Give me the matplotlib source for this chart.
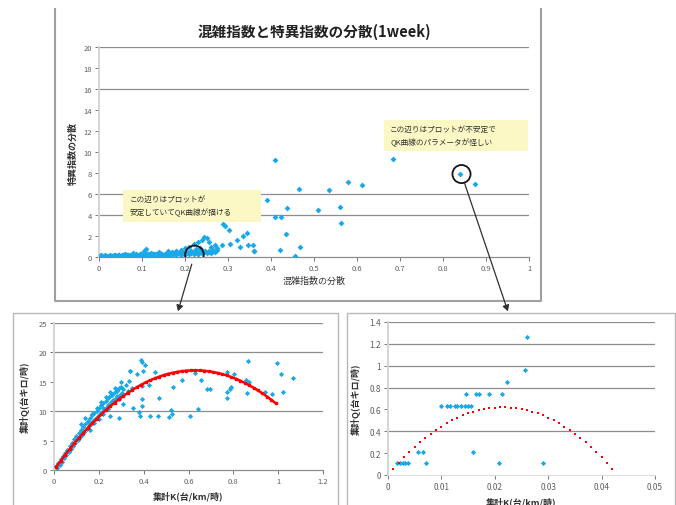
import matplotlib.pyplot as plt
from matplotlib.lines import Line2D
from matplotlib.patches import Rectangle, ConnectionPatch

plt.rcParams['font.family'] = ['Noto Sans CJK JP', 'DejaVu Sans']

BLUE = '#1AA9E8'
RED = '#FF0000'
GRID = '#8c8c8c'

# 上: 混雑指数の分散 vs 特異指数の分散
top_x = [0.00, 0.01, 0.02, 0.03, 0.04, 0.05, 0.06, 0.07, 0.08, 0.09, 0.10, 0.11, 0.12, 0.13,
         0.14, 0.15, 0.16, 0.17, 0.18, 0.19, 0.20, 0.21, 0.22, 0.23, 0.24, 0.25, 0.26, 0.27,
         0.005, 0.015, 0.025, 0.035, 0.045, 0.055, 0.065, 0.075, 0.085, 0.095, 0.105, 0.115,
         0.125, 0.135, 0.145, 0.155, 0.165, 0.175, 0.185, 0.195, 0.205, 0.215, 0.225, 0.235,
         0.245, 0.255, 0.265, 0.275,
         0.0025, 0.0075, 0.0125, 0.0175, 0.0225, 0.0275, 0.0325, 0.0375, 0.0425, 0.0475,
         0.0525, 0.0575, 0.0625, 0.0675, 0.0725, 0.0775, 0.0825, 0.0875, 0.0925, 0.0975,
         0.1025, 0.1075, 0.1125, 0.1175, 0.1225, 0.1275, 0.1325, 0.1375, 0.1425, 0.1475,
         0.1525, 0.1575, 0.1625, 0.1675, 0.1725, 0.1775, 0.1825, 0.1875, 0.1925, 0.1975,
         0.2025, 0.2075, 0.2125, 0.2175, 0.2225, 0.2275, 0.2325, 0.2375, 0.2425, 0.2475,
         0.11, 0.105, 0.14, 0.16, 0.17, 0.19, 0.20, 0.21, 0.22, 0.215, 0.225, 0.23, 0.235,
         0.24, 0.245, 0.25, 0.255, 0.26, 0.265, 0.27, 0.275, 0.255, 0.23, 0.08, 0.06, 0.12,
         0.18, 0.20, 0.285, 0.289, 0.294, 0.303, 0.305, 0.32, 0.328, 0.334, 0.345, 0.347,
         0.357, 0.36, 0.361, 0.39, 0.41, 0.42, 0.424, 0.435, 0.437, 0.455, 0.466, 0.467,
         0.51, 0.534, 0.56, 0.563, 0.578, 0.612, 0.683, 0.41, 0.84, 0.874]
top_y = [0.00, 0.02, 0.03, 0.05, 0.05, 0.06, 0.08, 0.08, 0.10, 0.10, 0.12, 0.12, 0.14, 0.15,
         0.16, 0.16, 0.18, 0.20, 0.20, 0.22, 0.24, 0.25, 0.30, 0.30, 0.35, 0.40, 0.40, 0.50,
         0.15, 0.17, 0.18, 0.20, 0.20, 0.21, 0.23, 0.23, 0.25, 0.25, 0.27, 0.27, 0.29, 0.30,
         0.31, 0.31, 0.33, 0.35, 0.35, 0.37, 0.39, 0.40, 0.45, 0.45, 0.50, 0.55, 0.55, 0.65,
         0.08, 0.10, 0.09, 0.12, 0.11, 0.14, 0.13, 0.15, 0.14, 0.17, 0.16, 0.18, 0.17, 0.20,
         0.19, 0.21, 0.20, 0.23, 0.22, 0.24, 0.23, 0.26, 0.25, 0.28, 0.27, 0.29, 0.28, 0.31,
         0.30, 0.32, 0.31, 0.34, 0.33, 0.36, 0.35, 0.38, 0.37, 0.40, 0.39, 0.42, 0.41, 0.45,
         0.44, 0.48, 0.47, 0.52, 0.50, 0.56, 0.55, 0.60,
         0.75, 0.55, 0.50, 0.60, 0.45, 0.70, 0.90, 1.00, 1.20, 0.60, 0.80, 1.40, 0.90,
         1.60, 1.90, 1.85, 1.40, 1.00, 0.70, 1.10, 0.90, 0.50, 0.30, 0.40, 0.30, 0.35,
         0.55, 0.45, 1.10, 3.15, 3.00, 2.60, 1.20, 1.60, 1.00, 2.00, 2.25, 1.15,
         1.15, 0.60, 0.60, 5.45, 3.80, 0.65, 3.80, 2.20, 4.70, 0.10, 6.50, 1.00,
         4.45, 6.35, 4.80, 3.20, 7.10, 6.90, 9.30, 9.20, 7.90, 7.00]

# 左下: 集計K vs 集計Q
bl_x = [0.01, 0.02, 0.03, 0.04, 0.05, 0.06, 0.07, 0.08, 0.09, 0.10, 0.11, 0.12, 0.13, 0.14,
        0.15, 0.16, 0.17, 0.18, 0.19, 0.20, 0.21, 0.22, 0.23, 0.24, 0.25, 0.26, 0.27, 0.28,
        0.29, 0.30,
        0.015, 0.025, 0.035, 0.045, 0.055, 0.065, 0.075, 0.085, 0.095, 0.105, 0.115, 0.125,
        0.135, 0.145, 0.155, 0.165, 0.175, 0.185, 0.195, 0.205, 0.215, 0.225, 0.235, 0.245,
        0.255, 0.265, 0.275, 0.285, 0.295, 0.305,
        0.12, 0.14, 0.16, 0.18, 0.20, 0.22, 0.24, 0.26, 0.28, 0.30, 0.31, 0.32, 0.33, 0.335,
        0.34, 0.35, 0.15, 0.17, 0.19, 0.21, 0.23, 0.25, 0.27, 0.29, 0.25, 0.289, 0.31, 0.22,
        0.24, 0.26, 0.28, 0.30,
        0.387, 0.394, 0.339, 0.37, 0.406, 0.399, 0.45, 0.629, 0.572, 0.656, 0.529, 0.425,
        0.394, 0.391, 0.467, 0.352, 0.391, 0.378, 0.384, 0.43, 0.466, 0.514, 0.528, 0.523,
        0.608, 0.642, 0.681, 0.696, 0.772, 0.803, 0.772, 0.772, 0.79, 0.783, 0.856, 0.868,
        0.865, 0.86, 0.94, 0.971, 0.993, 1.011, 1.02, 1.067]
bl_y = [0.6, 1.2, 1.8, 2.3, 2.9, 3.4, 4.0, 4.6, 5.2, 5.7, 6.3, 6.8, 7.3, 7.9,
        8.4, 8.8, 9.3, 9.7, 10.1, 10.6, 11.0, 11.4, 11.8, 12.2, 12.6, 13.0, 13.3, 13.6,
        13.9, 14.2,
        0.3, 0.9, 1.4, 2.0, 2.5, 3.0, 3.5, 4.1, 4.6, 5.1, 5.6, 6.0, 6.5, 7.0,
        7.4, 7.9, 8.3, 8.7, 9.1, 9.5, 9.9, 10.3, 10.7, 11.1, 11.5, 11.9, 12.2, 12.5,
        12.8, 13.1,
        7.8, 8.8, 6.8, 8.0, 8.6, 9.5, 10.4, 11.8, 12.6, 14.9, 13.7, 14.5, 13.5, 15.15,
        16.9, 14.0, 8.2, 9.6, 10.6, 11.5, 12.5, 13.2, 14.0, 12.0, 9.2, 8.8, 11.2, 10.6,
        11.0, 12.8, 13.4, 12.9,
        18.76, 18.3, 16.9, 16.3, 17.86, 16.9, 16.7, 16.5, 15.3, 15.3, 14.17, 14.45,
        14.3, 12.0, 12.19, 10.49, 10.8, 9.8, 9.13, 9.24, 9.13, 8.96, 9.47, 10.2,
        9.19, 10.33, 13.72, 13.72, 16.6, 16.4, 13.3, 12.3, 14.2, 13.8, 15.3, 15.0,
        18.5, 13.1, 13.2, 12.9, 18.2, 16.4, 13.2, 15.6]

bl_fit_k = [0.01, 0.03, 0.05, 0.07, 0.09, 0.11, 0.13, 0.15, 0.17, 0.19, 0.21, 0.23, 0.25,
            0.27, 0.29, 0.31, 0.33, 0.35, 0.37, 0.39, 0.41, 0.43, 0.45, 0.47, 0.49, 0.51,
            0.53, 0.55, 0.57, 0.59, 0.61, 0.63, 0.65, 0.67, 0.69, 0.71, 0.73, 0.75, 0.77,
            0.79, 0.81, 0.83, 0.85, 0.87, 0.89, 0.91, 0.93, 0.95, 0.97, 0.99]
bl_fit_q = [0.54, 1.58, 2.59, 3.57, 4.51, 5.42, 6.29, 7.13, 7.94, 8.71, 9.44, 10.15, 10.81,
            11.45, 12.04, 12.61, 13.14, 13.63, 14.09, 14.52, 14.91, 15.27, 15.59, 15.88,
            16.14, 16.36, 16.54, 16.69, 16.81, 16.89, 16.94, 16.95, 16.93, 16.88, 16.79,
            16.66, 16.51, 16.31, 16.09, 15.82, 15.53, 15.20, 14.83, 14.43, 14.00, 13.53,
            13.03, 12.49, 11.92, 11.32]

# 右下
br_x = [0.0261, 0.0257, 0.0222, 0.0213, 0.019, 0.0171, 0.0165, 0.01455,
        0.00987, 0.0111, 0.0116, 0.0125, 0.0129, 0.0137, 0.0144, 0.015, 0.0155,
        0.00556, 0.00655, 0.016, 0.00175, 0.00225, 0.00275, 0.0032, 0.0037,
        0.0072, 0.0207, 0.029]
br_y = [1.26, 0.958, 0.848, 0.738, 0.738, 0.738, 0.738, 0.738,
        0.631, 0.631, 0.631, 0.631, 0.631, 0.631, 0.631, 0.631, 0.631,
        0.213, 0.213, 0.213, 0.11, 0.11, 0.11, 0.11, 0.11,
        0.11, 0.11, 0.11]

br_fit_k = [0.001, 0.002, 0.003, 0.004, 0.005, 0.006, 0.007, 0.008, 0.009, 0.010, 0.011,
            0.012, 0.013, 0.014, 0.015, 0.016, 0.017, 0.018, 0.019, 0.020, 0.021, 0.022,
            0.023, 0.024, 0.025, 0.026, 0.027, 0.028, 0.029, 0.030, 0.031, 0.032, 0.033,
            0.034, 0.035, 0.036, 0.037, 0.038, 0.039, 0.040, 0.041, 0.042]
br_fit_q = [0.056, 0.110, 0.161, 0.209, 0.255, 0.298, 0.338, 0.376, 0.410, 0.443, 0.472,
            0.499, 0.523, 0.545, 0.563, 0.579, 0.593, 0.604, 0.612, 0.617, 0.620, 0.620,
            0.617, 0.612, 0.604, 0.593, 0.579, 0.563, 0.545, 0.523, 0.499, 0.472, 0.443,
            0.410, 0.376, 0.338, 0.298, 0.255, 0.209, 0.161, 0.110, 0.056]

W, H = 676, 506


def px_axes(l, t, r, b):
    return [l / W, 1 - b / H, (r - l) / W, (b - t) / H]


def style(ax, grid_at):
    for s in ['top', 'right']:
        ax.spines[s].set_visible(False)
    ax.spines['left'].set_color('#d4d4d4')
    ax.spines['left'].set_linewidth(1.4)
    ax.spines['bottom'].set_color('#8c8c8c')
    ax.spines['bottom'].set_linewidth(0.9)
    ax.tick_params(labelsize=5.5, colors='#606060', length=3, width=0.6, pad=2)
    for g in grid_at:
        ax.axhline(g, color=GRID, lw=0.9, zorder=1)


fig = plt.figure(figsize=(W / 100, H / 100), dpi=100)

# frames
frame = dict(color='#a0a0a0', lw=1.5, transform=fig.transFigure)
fig.add_artist(Line2D([55 / W, 55 / W, 541 / W, 541 / W],
                      [1 - 10 / H, 1 - 302 / H, 1 - 302 / H, 1 - 10 / H], **frame))
thin = dict(color='#b8b8b8', lw=1.0, transform=fig.transFigure)
fig.add_artist(Line2D([13 / W, 13 / W, 338 / W, 338 / W],
                      [0, 1 - 314 / H, 1 - 314 / H, 0], **thin))
fig.add_artist(Line2D([347 / W, 347 / W, 675 / W, 675 / W],
                      [0, 1 - 314 / H, 1 - 314 / H, 0], **thin))

# top chart
ax = fig.add_axes(px_axes(99, 48, 529, 258))
style(ax, [4, 6, 16, 20])
ax.scatter(top_x, top_y, s=9, marker='D', color=BLUE, linewidths=0, zorder=3)
ax.set_xlim(0, 1)
ax.set_ylim(0, 20)
ax.set_xticks([i / 10 for i in range(11)])
ax.set_xticklabels(['0'] + [f'{i / 10:g}' for i in range(1, 10)] + ['1'])
ax.set_yticks(range(0, 21, 2))
ax.set_title('混雑指数と特異指数の分散(1week)', fontsize=10.5, fontweight='bold',
             color='#202020', pad=8)
ax.set_xlabel('混雑指数の分散', fontsize=6.5, color='#303030', labelpad=3)
ax.set_ylabel('特異指数の分散', fontsize=6.5, fontweight='bold', color='#303030', labelpad=4)

ax.add_patch(Rectangle((0.056, 3.33), 0.321, 3.05, facecolor='#FCF8C6', edgecolor='none', zorder=4))
ax.text(0.072, 5.5, 'この辺りはプロットが', fontsize=5.5, color='#303030', zorder=5, va='center')
ax.text(0.072, 4.25, '安定していてQK曲線が描ける', fontsize=5.5, color='#303030', zorder=5, va='center')
ax.add_patch(Rectangle((0.663, 10.1), 0.335, 2.95, facecolor='#FCF8C6', edgecolor='none', zorder=4))
ax.text(0.677, 12.2, 'この辺りはプロットが不安定で', fontsize=5.5, color='#303030', zorder=5, va='center')
ax.text(0.677, 10.95, 'QK曲線のパラメータが怪しい', fontsize=5.5, color='#303030', zorder=5, va='center')

circ_l = (0.222, 0.2)
circ_r = (0.843, 7.9)
ax.scatter(*circ_l, s=180, facecolors='none', edgecolors='#151515', linewidths=1.3, zorder=6)
ax.scatter(*circ_r, s=170, facecolors='none', edgecolors='#151515', linewidths=1.3, zorder=6)

# bottom left
ax2 = fig.add_axes(px_axes(54, 324, 323, 471))
style(ax2, [10, 20, 25])
ax2.scatter(bl_x, bl_y, s=7, marker='D', color=BLUE, linewidths=0, zorder=3)
ax2.plot(bl_fit_k, bl_fit_q, color=RED, lw=1.8, marker='s', ms=1.6, zorder=4)
ax2.set_xlim(0, 1.2)
ax2.set_ylim(0, 25)
ax2.set_xticks([0, 0.2, 0.4, 0.6, 0.8, 1.0, 1.2])
ax2.set_xticklabels(['0', '0.2', '0.4', '0.6', '0.8', '1', '1.2'])
ax2.set_yticks(range(0, 26, 5))
ax2.set_xlabel('集計K(台/km/時)', fontsize=6.5, fontweight='bold', color='#303030', labelpad=4)
ax2.set_ylabel('集計Q(台キロ/時)', fontsize=6.5, fontweight='bold', color='#303030', labelpad=6)

# bottom right
ax3 = fig.add_axes(px_axes(388, 323, 655, 476))
style(ax3, [0.4, 0.8, 1.0, 1.2, 1.4])
ax3.spines['bottom'].set_color('#e0e0e0')
ax3.scatter(br_x, br_y, s=7, marker='D', color=BLUE, linewidths=0, zorder=3)
ax3.scatter(br_fit_k, br_fit_q, s=3, marker='s', color=RED, linewidths=0, zorder=4)
ax3.set_xlim(0, 0.05)
ax3.set_ylim(0, 1.4)
ax3.set_xticks([0, 0.01, 0.02, 0.03, 0.04, 0.05])
ax3.set_xticklabels(['0', '0.01', '0.02', '0.03', '0.04', '0.05'])
ax3.set_yticks([0, 0.2, 0.4, 0.6, 0.8, 1.0, 1.2, 1.4])
ax3.set_yticklabels(['0', '0.2', '0.4', '0.6', '0.8', '1', '1.2', '1.4'])
ax3.tick_params(labelsize=6)
ax3.set_xlabel('集計K(台/km/時)', fontsize=6.5, fontweight='bold', color='#303030', labelpad=4)
ax3.set_ylabel('集計Q(台キロ/時)', fontsize=6.5, fontweight='bold', color='#303030', labelpad=6)

# arrows
for xyA, axB, xyB in [(circ_l, ax2, (0.461, 1.08)), (circ_r, ax3, (0.449, 1.07))]:
    con = ConnectionPatch(xyA=xyA, coordsA=ax.transData, xyB=xyB, coordsB=axB.transAxes,
                          arrowstyle='-|>,head_length=0.35,head_width=0.2', color='#303030',
                          lw=0.9, shrinkA=7, shrinkB=0, zorder=10)
    fig.add_artist(con)

fig.savefig('out.png', dpi=100)
